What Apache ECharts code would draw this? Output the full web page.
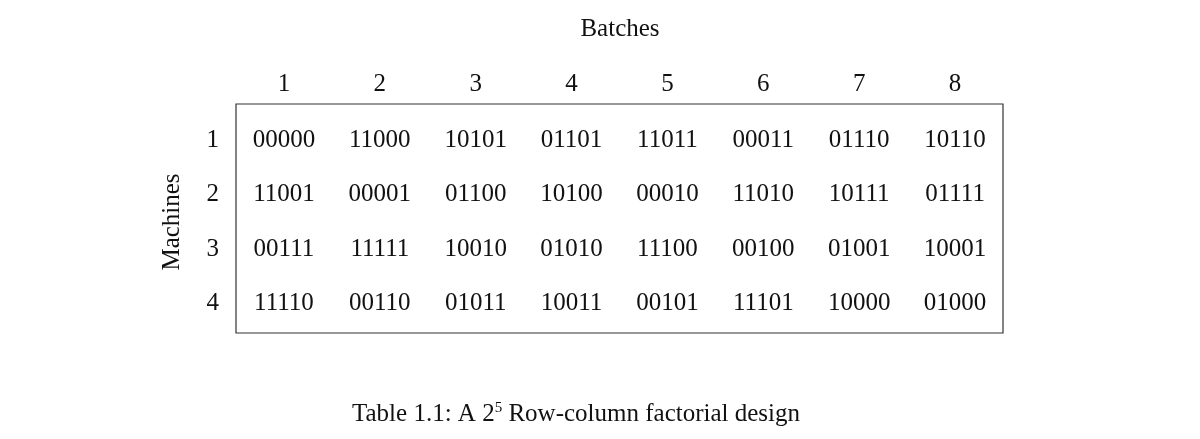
<!DOCTYPE html>
<html><head><meta charset="utf-8">
<script src="https://cdn.jsdelivr.net/npm/echarts@6/dist/echarts.min.js"></script>
<style>html,body{margin:0;background:#fff}#c{width:1200px;height:439px}</style>
</head><body><div id="c"></div>
<script>
const batches = ['1','2','3','4','5','6','7','8'];
const machines = ['1','2','3','4'];
const row1 = ['00000','11000','10101','01101','11011','00011','01110','10110'];
const row2 = ['11001','00001','01100','10100','00010','11010','10111','01111'];
const row3 = ['00111','11111','10010','01010','11100','00100','01001','10001'];
const row4 = ['11110','00110','01011','10011','00101','11101','10000','01000'];
const rows = [row1,row2,row3,row4];
const data = [];
rows.forEach((r,i)=>r.forEach((v,j)=>data.push([j,i,v])));
const F = 'Liberation Serif';
const chart = echarts.init(document.getElementById('c'));
chart.setOption({
  animation:false,
  textStyle:{fontFamily:F},
  grid:{left:236,width:767,top:113,height:218},
  xAxis:{type:'category',data:batches,position:'top',axisLine:{show:false},axisTick:{show:false},
    axisLabel:{fontFamily:F,fontSize:25,color:'#111',margin:16},splitLine:{show:false}},
  yAxis:{type:'category',data:machines,inverse:true,axisLine:{show:false},axisTick:{show:false},
    axisLabel:{fontFamily:F,fontSize:25,color:'#111',margin:17},splitLine:{show:false}},
  series:[{type:'scatter',symbolSize:0,data:data,itemStyle:{opacity:1},
    label:{show:true,position:'inside',formatter:p=>p.value[2],fontFamily:F,fontSize:25,color:'#111',opacity:1,textBorderWidth:0}}],
  graphic:[
    {type:'rect',shape:{x:236,y:104,width:767,height:229},style:{fill:'none',stroke:'#333',lineWidth:1.2}},
    {type:'text',x:620,y:29,style:{text:'Batches',font:'25px "Liberation Serif"',fill:'#111',align:'center',verticalAlign:'middle'}},
    {type:'text',x:172,y:222,rotation:Math.PI/2,style:{text:'Machines',font:'25px "Liberation Serif"',fill:'#111',align:'center',verticalAlign:'middle'}},
    {type:'text',x:576,y:414,style:{rich:{s:{fontSize:15,verticalAlign:'top',padding:[0,0,12,0],fontFamily:F,fill:'#111'},n:{fontSize:25,fontFamily:F,fill:'#111'}},text:'{n|Table 1.1: A 2}{s|5}{n| Row-column factorial design}',align:'center',verticalAlign:'middle'}}
  ]
});
</script></body></html>
